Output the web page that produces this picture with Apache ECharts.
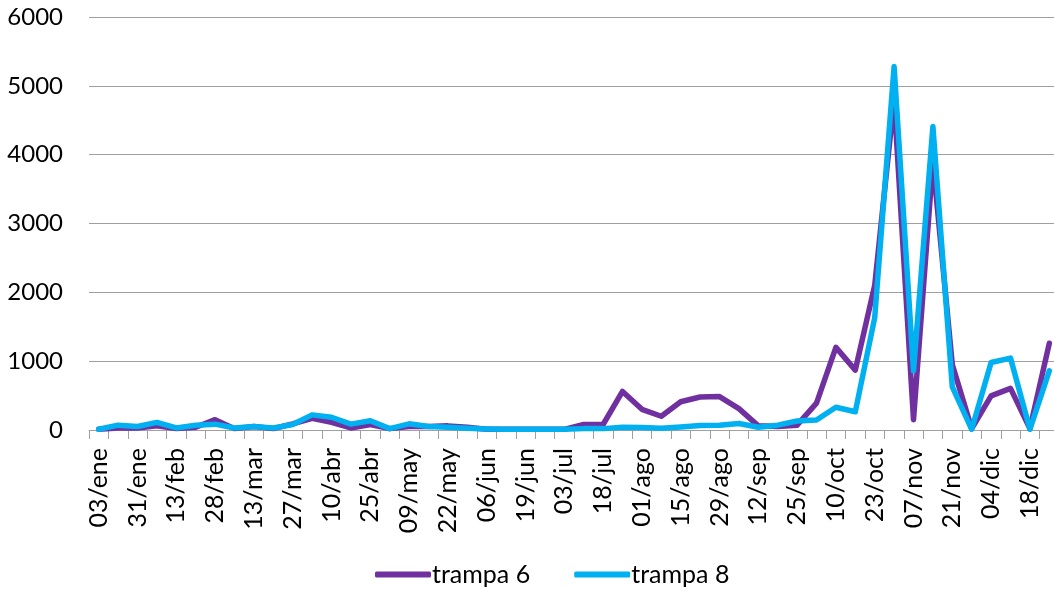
<!DOCTYPE html>
<html>
<head>
<meta charset="utf-8">
<style>
  html, body { margin: 0; padding: 0; background: #fff; overflow: hidden; }
  #main { width: 1060px; height: 589px; }
</style>
<script src="https://cdn.jsdelivr.net/npm/echarts@6/dist/echarts.min.js"></script>
</head>
<body>
<div id="main"></div>
<script>
// fechas de muestreo (se ve una de cada dos en el eje)
var fechas = [
    '03/ene', '17/ene', '31/ene', '06/feb', '13/feb', '20/feb', '28/feb', '06/mar',
    '13/mar', '20/mar', '27/mar', '03/abr', '10/abr', '17/abr', '25/abr', '02/may',
    '09/may', '16/may', '22/may', '29/may', '06/jun', '13/jun', '19/jun', '26/jun',
    '03/jul', '10/jul', '18/jul', '25/jul', '01/ago', '08/ago', '15/ago', '22/ago',
    '29/ago', '05/sep', '12/sep', '19/sep', '25/sep', '02/oct', '10/oct', '16/oct',
    '23/oct', '30/oct', '07/nov', '14/nov', '21/nov', '28/nov', '04/dic', '11/dic',
    '18/dic', '26/dic'
];

var trampa6 = [
    10, 30, 30, 60, 20, 40, 150, 20,
    50, 20, 90, 170, 110, 30, 80, 20,
    50, 50, 60, 40, 10, 10, 10, 10,
    10, 80, 80, 560, 300, 200, 410, 480,
    485, 310, 60, 50, 70, 390, 1200, 870,
    2100, 4800, 150, 3900, 950, 20, 495, 605,
    20, 1260
];

var trampa8 = [
    10, 70, 50, 110, 30, 70, 85, 30,
    50, 30, 80, 220, 185, 85, 135, 20,
    90, 50, 40, 25, 15, 10, 10, 10,
    10, 20, 20, 40, 35, 25, 45, 65,
    70, 95, 40, 70, 130, 145, 330, 265,
    1630, 5280, 860, 4410, 625, 10, 980, 1045,
    10, 860
];

var ticksY = [0, 1000, 2000, 3000, 4000, 5000, 6000];

// el gráfico original está recortado por la derecha: el lienzo es algo más ancho que la ventana
var myChart = echarts.init(document.getElementById('main'));

var fuente = 'Lato, "Open Sans", sans-serif';

option = {
    animation: false,
    textStyle: {
        fontFamily: fuente
    },
    grid: {
        left: 89,
        right: 1,
        top: 17,
        bottom: 159,
        containLabel: false
    },
    legend: {
        left: 370,
        top: 557,
        icon: 'roundRect',
        itemWidth: 56,
        itemHeight: 6,
        itemGap: 44,
        textStyle: {
            fontFamily: fuente,
            fontSize: 25,
            color: '#000',
            padding: [0, 0, 0, -4]
        },
        data: ['trampa 6', 'trampa 8']
    },
    xAxis: {
        type: 'category',
        data: fechas,
        boundaryGap: true,
        axisLine: {
            lineStyle: { color: '#a0a0a0', width: 1 }
        },
        axisTick: {
            show: true,
            interval: 0,
            length: 9,
            lineStyle: { color: '#a0a0a0' }
        },
        axisLabel: {
            interval: 1,
            rotate: 90,
            margin: 18,
            fontFamily: fuente,
            fontSize: 25,
            color: '#000'
        }
    },
    yAxis: {
        type: 'value',
        min: ticksY[0],
        max: ticksY[ticksY.length - 1],
        interval: 1000,
        axisLine: { show: false },
        axisTick: { show: false },
        axisLabel: {
            margin: 26,
            fontFamily: fuente,
            fontSize: 24,
            color: '#000',
            formatter: function (v) {
                return String(v);
            }
        },
        splitLine: {
            lineStyle: { color: '#a0a0a0', width: 1 }
        }
    },
    series: [{
        name: 'trampa 6',
        type: 'line',
        symbol: 'none',
        data: trampa6,
        itemStyle: { color: '#7030A0' },
        lineStyle: { color: '#7030A0', width: 5.5, cap: 'round', join: 'round' }
    }, {
        name: 'trampa 8',
        type: 'line',
        symbol: 'none',
        data: trampa8,
        itemStyle: { color: '#00B0F0' },
        lineStyle: { color: '#00B0F0', width: 5.5, cap: 'round', join: 'round' }
    }]
};

myChart.setOption(option);
</script>
</body>
</html>
